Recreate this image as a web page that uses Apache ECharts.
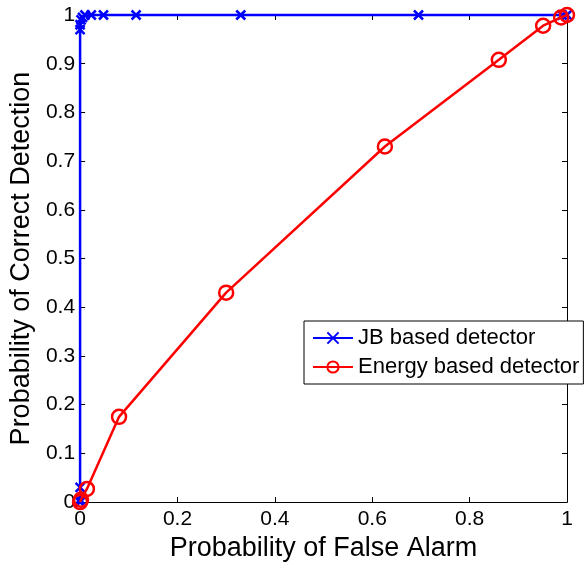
<!DOCTYPE html>
<html>
<head>
<meta charset="utf-8">
<script src="https://cdn.jsdelivr.net/npm/echarts@6/dist/echarts.min.js"></script>
<style>
html,body{margin:0;padding:0;background:#fff;}
#chart{width:588px;height:567px;}
</style>
</head>
<body>
<div id="chart"></div>
<script>
const jbX = [0, 0, 0, 0, 0, 0.002, 0.005, 0.01, 0.023, 0.048, 0.115, 0.33, 0.695, 0.99, 1];
const jbY = [0, 0.005, 0.03, 0.97, 0.98, 0.99, 0.995, 1, 1, 1, 1, 1, 1, 1, 1];
const enX = [0, 0.002, 0.014, 0.08, 0.30, 0.626, 0.86, 0.951, 0.988, 1];
const enY = [0, 0.005, 0.027, 0.175, 0.43, 0.73, 0.908, 0.978, 0.995, 1];
const seriesNames = ['JB based detector', 'Energy based detector'];
const xTitle = 'Probability of False Alarm';
const yTitle = 'Probability of Correct Detection';

const FONT = "'Liberation Sans', Arial, sans-serif";
const zip = (a, b) => a.map((v, i) => [v, b[i]]);

const chart = echarts.init(document.getElementById('chart'), null, {renderer: 'canvas'});
const axisCommon = {
  type: 'value', min: 0, max: 1,
  axisLine: {show: true, onZero: false, lineStyle: {color: '#000', width: 1}},
  axisTick: {show: true, inside: true, length: 5, lineStyle: {color: '#000'}},
  splitLine: {show: false}
};
chart.setOption({
  animation: false,
  backgroundColor: '#fff',
  grid: {left: 78, right: 21, top: 15, bottom: 62, containLabel: false},
  xAxis: [
    Object.assign({}, axisCommon, {
      position: 'bottom', interval: 0.2,
      axisLabel: {color: '#000', fontSize: 21, fontFamily: FONT, margin: 7},
      name: xTitle, nameLocation: 'middle', nameGap: 26,
      nameTextStyle: {color: '#000', fontSize: 27, fontFamily: FONT}
    }),
    Object.assign({}, axisCommon, {
      position: 'top', interval: 0.2, axisLabel: {show: false}
    })
  ],
  yAxis: [
    Object.assign({}, axisCommon, {
      position: 'left', interval: 0.1,
      axisLabel: {color: '#000', fontSize: 21, fontFamily: FONT, margin: 5},
      name: yTitle, nameLocation: 'middle', nameGap: 42, nameRotate: 90,
      nameTextStyle: {color: '#000', fontSize: 27, fontFamily: FONT}
    }),
    Object.assign({}, axisCommon, {
      position: 'right', interval: 0.1, axisLabel: {show: false}
    })
  ],
  legend: {
    show: true,
    left: 304, top: 321,
    orient: 'vertical',
    itemWidth: 40, itemHeight: 14, itemGap: 5,
    padding: [5, 4, 5, 8],
    borderColor: '#000', borderWidth: 1, backgroundColor: '#fff',
    textStyle: {color: '#000', fontSize: 22, fontFamily: FONT, lineHeight: 24},
    data: seriesNames
  },
  series: [
    {
      name: seriesNames[0], type: 'line',
      data: zip(jbX, jbY),
      clip: false,
      symbol: 'path://M0,0L10,10M10,0L0,10',
      symbolSize: 9,
      lineStyle: {color: '#0000ff', width: 2.5},
      itemStyle: {color: '#0000ff', borderColor: '#0000ff', borderWidth: 2.5},
      z: 3
    },
    {
      name: seriesNames[1], type: 'line',
      data: zip(enX, enY),
      clip: false,
      symbol: 'circle',
      symbolSize: 14,
      lineStyle: {color: '#ff0000', width: 2.5},
      itemStyle: {color: 'rgba(255,255,255,0)', borderColor: '#ff0000', borderWidth: 2.5},
      z: 4
    }
  ]
});
</script>
</body>
</html>
